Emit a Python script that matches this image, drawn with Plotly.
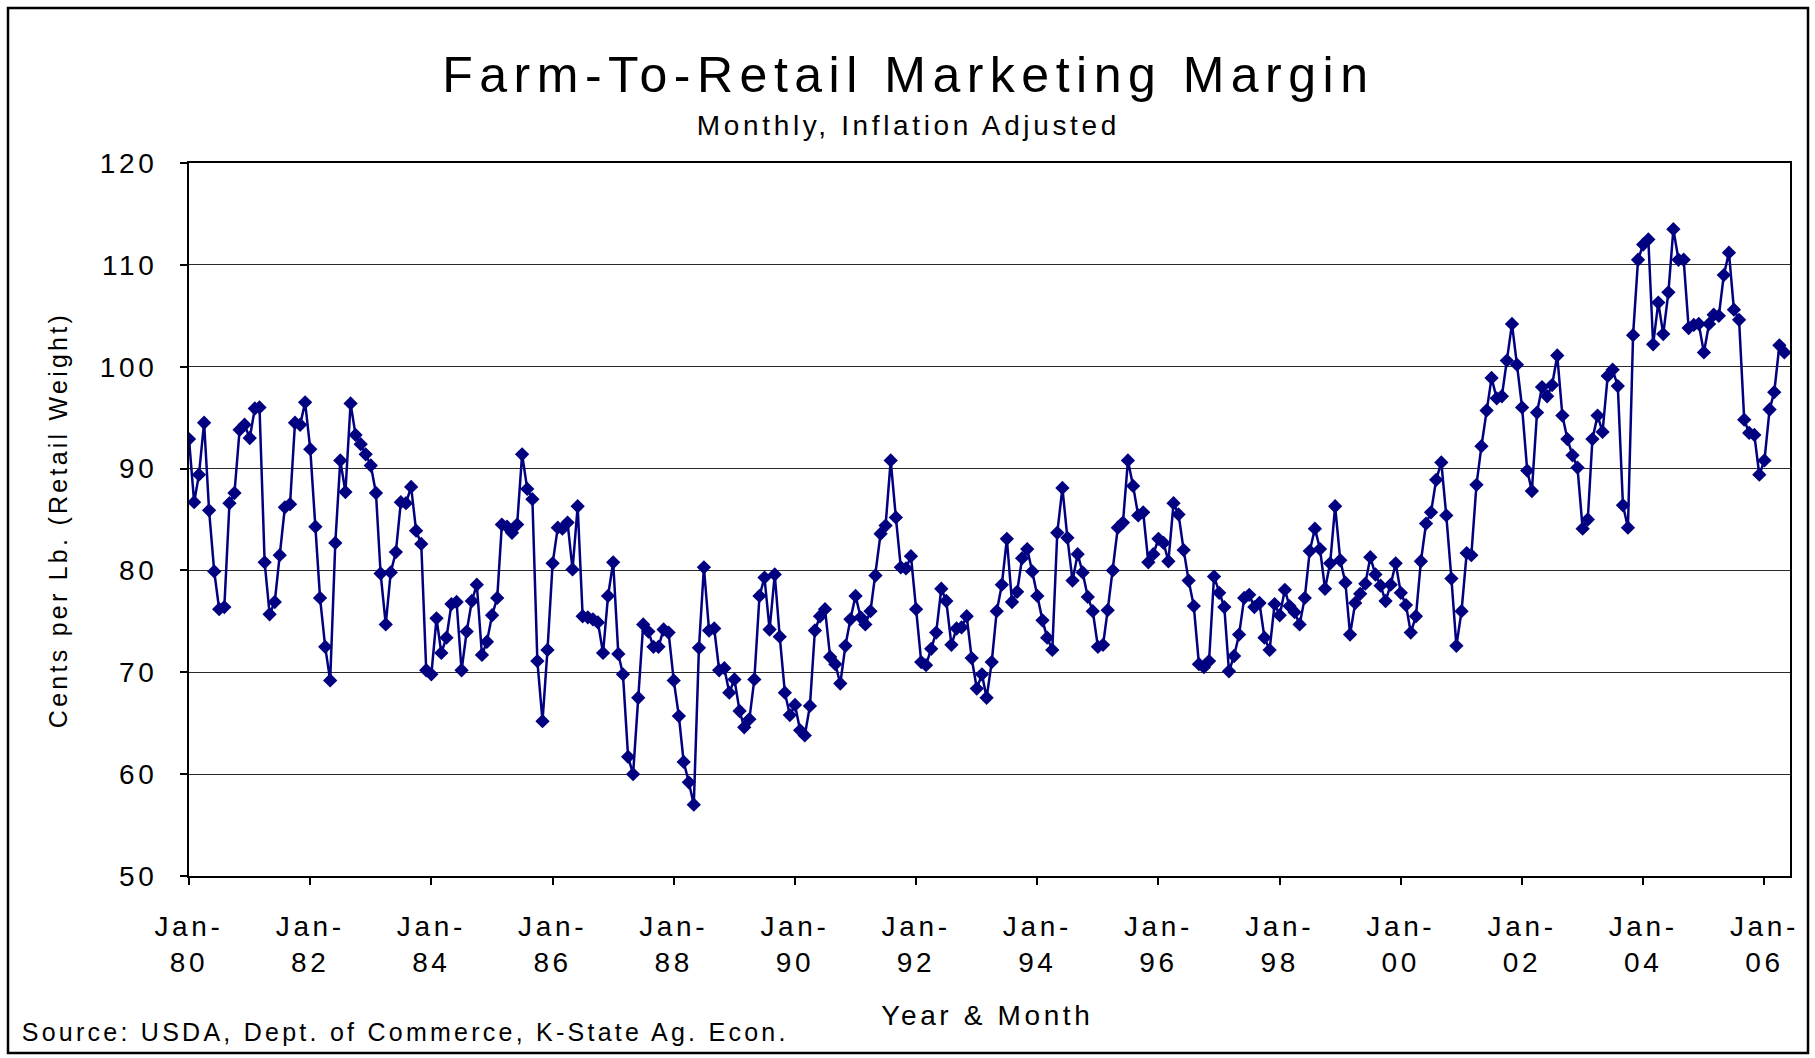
import plotly.graph_objects as go
import pandas as pd

FONT = "Liberation Sans, Arial, sans-serif"
NAVY = "#000080"

# monthly farm-to-retail margin, cents per lb (retail weight), Jan-80 onward
start_month = "1980-01-01"
margin = [
    92.9, 86.7, 89.4, 94.5, 85.9, 79.9, 76.2, 76.4, 86.6, 87.6, 93.8, 94.3,  # 1980
    93.0, 95.9, 96.0, 80.8, 75.7, 76.9, 81.5, 86.2, 86.5, 94.5, 94.3, 96.5,  # 1981
    91.9, 84.3, 77.3, 72.5, 69.2, 82.7, 90.8, 87.7, 96.4, 93.3, 92.4, 91.4,  # 1982
    90.3, 87.6, 79.7, 74.7, 79.8, 81.8, 86.7, 86.6, 88.2, 83.9, 82.6, 70.2,  # 1983
    69.8, 75.3, 71.9, 73.4, 76.7, 76.9, 70.2, 74.0, 77.0, 78.6, 71.7, 73.0,  # 1984
    75.6, 77.3, 84.5, 84.3, 83.7, 84.5, 91.4, 88.0, 87.0, 71.1, 65.2, 72.2,  # 1985
    80.7, 84.2, 84.1, 84.7, 80.1, 86.3, 75.5, 75.4, 75.2, 74.9, 71.9, 77.5,  # 1986
    80.8, 71.8, 69.8, 61.7, 60.0, 67.5, 74.7, 74.0, 72.5, 72.5, 74.2, 73.9,  # 1987
    69.2, 65.7, 61.2, 59.2, 57.0, 72.4, 80.3, 74.1, 74.3, 70.2, 70.4, 68.0,  # 1988
    69.3, 66.2, 64.6, 65.4, 69.3, 77.5, 79.3, 74.2, 79.6, 73.5, 68.0, 65.8,  # 1989
    66.8, 64.3, 63.8, 66.7, 74.1, 75.5, 76.2, 71.5, 70.8, 68.9, 72.6, 75.2,  # 1990
    77.5, 75.4, 74.7, 76.0, 79.5, 83.6, 84.4, 90.8, 85.2, 80.3, 80.2, 81.4,  # 1991
    76.2, 71.0, 70.7, 72.3, 73.9, 78.2, 77.0, 72.7, 74.3, 74.4, 75.5, 71.4,  # 1992
    68.4, 69.8, 67.5, 71.0, 76.0, 78.6, 83.1, 76.9, 77.9, 81.2, 82.1, 79.9,  # 1993
    77.5, 75.1, 73.4, 72.2, 83.7, 88.1, 83.2, 79.0, 81.6, 79.8, 77.4, 76.0,  # 1994
    72.5, 72.7, 76.1, 80.0, 84.2, 84.7, 90.8, 88.3, 85.4, 85.7, 80.8, 81.6,  # 1995
    83.1, 82.7, 80.9, 86.6, 85.5, 82.0, 79.0, 76.5, 70.8, 70.5, 71.1, 79.4,  # 1996
    77.8, 76.4, 70.1, 71.6, 73.7, 77.3, 77.6, 76.4, 76.8, 73.4, 72.2, 76.7,  # 1997
    75.6, 78.1, 76.5, 75.9, 74.7, 77.3, 81.9, 84.1, 82.1, 78.2, 80.7, 86.3,  # 1998
    81.0, 78.8, 73.7, 76.8, 77.7, 78.7, 81.3, 79.6, 78.5, 77.0, 78.6, 80.7,  # 1999
    77.8, 76.6, 73.9, 75.5, 80.9, 84.6, 85.7, 88.9, 90.6, 85.4, 79.2, 72.6,  # 2000
    76.0, 81.7, 81.5, 88.4, 92.2, 95.7, 98.9, 96.9, 97.1, 100.6, 104.2, 100.2,  # 2001
    96.0, 89.8, 87.8, 95.5, 98.0, 97.1, 98.2, 101.1, 95.2, 92.9, 91.3, 90.1,  # 2002
    84.1, 85.0, 92.9, 95.2, 93.6, 99.1, 99.7, 98.1, 86.4, 84.2, 103.1, 110.5,  # 2003
    112.0, 112.5, 102.2, 106.3, 103.2, 107.3, 113.5, 110.5, 110.5, 103.8, 104.1, 104.2,  # 2004
    101.4, 104.2, 105.1, 105.0, 109.0, 111.2, 105.6, 104.6, 94.8, 93.5, 93.3, 89.4,  # 2005
    90.8, 95.8, 97.5, 102.1, 101.4,  # 2006
]

tick_years = list(range(1980, 2007, 2))
tick_vals = [f"{y}-01-01" for y in tick_years]
tick_text = [f"Jan-<br>{y % 100:02d}" for y in tick_years]
y_ticks = [50, 60, 70, 80, 90, 100, 110, 120]

months = pd.date_range(start_month, periods=len(margin), freq="MS")

fig = go.Figure()
fig.add_trace(
    go.Scatter(
        x=months,
        y=margin,
        mode="lines+markers",
        line=dict(color=NAVY, width=2.5),
        marker=dict(symbol="diamond", size=11, color=NAVY),
        hovertemplate="%{x|%b-%y}: %{y:.1f}<extra></extra>",
    )
)

# plot area: x 189..1790, y 163..876 (px)
def px_x(px):
    return (px - 189) / 1601


def px_y(py):
    return (876 - py) / 713


annotations = [
    dict(text="Farm-To-Retail Marketing Margin", x=px_x(908), y=px_y(75),
         font=dict(size=50)),
    dict(text="Monthly, Inflation Adjusted", x=px_x(908), y=px_y(125),
         font=dict(size=28)),
    dict(text="Cents per Lb. (Retail Weight)", x=px_x(58), y=px_y(520),
         textangle=-90, font=dict(size=25)),
    dict(text="Year & Month", x=px_x(987), y=px_y(1016), font=dict(size=28)),
    dict(text="Source: USDA, Dept. of Commerce, K-State Ag. Econ.",
         x=px_x(405), y=px_y(1032), font=dict(size=25)),
]
for a in annotations:
    a.update(xref="paper", yref="paper", showarrow=False,
             xanchor="center", yanchor="middle")

fig.update_layout(
    width=1815,
    height=1058,
    margin=dict(l=189, r=25, t=163, b=182),
    paper_bgcolor="white",
    plot_bgcolor="white",
    showlegend=False,
    font=dict(family=FONT, size=28, color="black"),
    annotations=annotations,
    shapes=[
        dict(type="rect", xref="paper", yref="paper",
             x0=px_x(8), x1=px_x(1808), y0=px_y(1053), y1=px_y(8),
             line=dict(color="black", width=2.5), layer="below"),
    ],
)

fig.update_xaxes(
    type="date",
    range=["1980-01-01", "2006-06-04"],
    tickvals=tick_vals,
    ticktext=tick_text,
    ticks="outside",
    ticklen=7,
    tickcolor="black",
    tickwidth=1.5,
    ticklabelstandoff=17,
    tickfont=dict(size=28),
    showline=True,
    linecolor="black",
    linewidth=1.8,
    mirror=True,
    showgrid=False,
    zeroline=False,
)
fig.update_yaxes(
    range=[50, 120],
    tickvals=y_ticks,
    ticks="outside",
    ticklen=7,
    tickcolor="black",
    tickwidth=1.5,
    ticklabelstandoff=17,
    tickfont=dict(size=28),
    showline=True,
    linecolor="black",
    linewidth=1.8,
    mirror=True,
    showgrid=True,
    gridcolor="#2a2a2a",
    gridwidth=1,
    zeroline=False,
)

# Excel-style wide text spacing, and no page margin
post = """
document.body.style.margin = '0';
document.querySelectorAll('.main-svg text').forEach(function (t) {
    t.style.letterSpacing = '0.13em';
});
"""

fig.write_html("out.html", post_script=post, config={"displayModeBar": False})
